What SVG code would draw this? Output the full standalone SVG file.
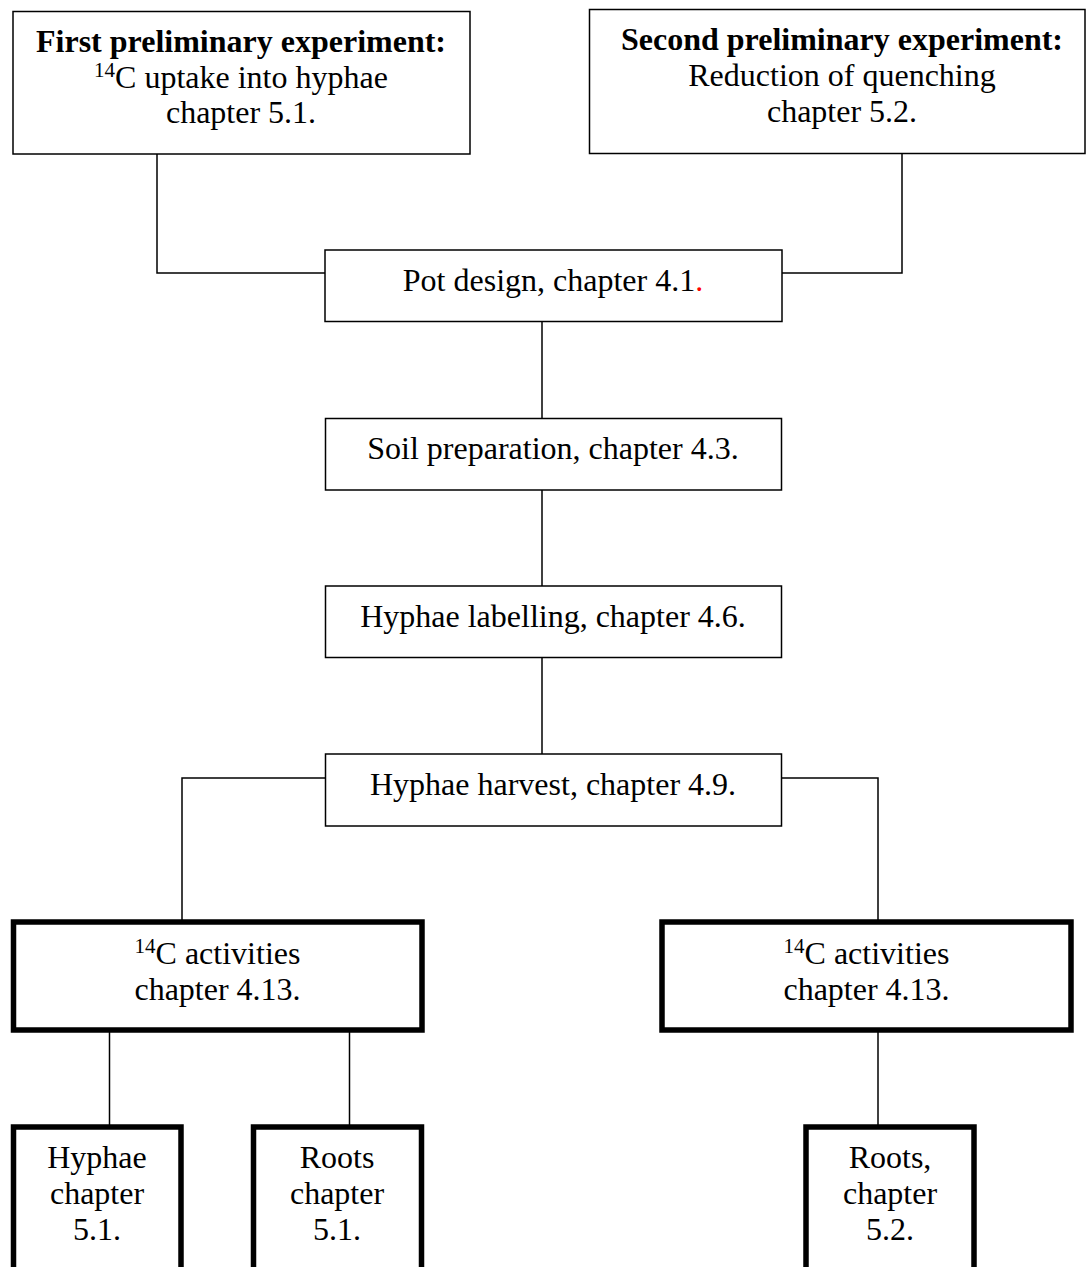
<svg xmlns="http://www.w3.org/2000/svg" width="1086" height="1267" viewBox="0 0 1086 1267">
<style>
  .box{fill:#fff;stroke:#000;stroke-width:1.5}
  .thick{fill:#fff;stroke:#000;stroke-width:5.5}
  .conn{fill:none;stroke:#000;stroke-width:1.5}
  text{font-family:"Liberation Serif","Times New Roman",serif;font-size:32px;fill:#000;text-anchor:middle}
  .b{font-weight:bold}
  .sup{font-size:21px}
  .red{fill:#ff0000}
</style>
<rect x="0" y="0" width="1086" height="1267" fill="#fff"/>
<g id="connectors">
  <polyline class="conn" points="157,154 157,273 325,273"/>
  <polyline class="conn" points="902,154 902,273 782,273"/>
  <line class="conn" x1="542" y1="322" x2="542" y2="418"/>
  <line class="conn" x1="542" y1="490" x2="542" y2="586"/>
  <line class="conn" x1="542" y1="658" x2="542" y2="754"/>
  <polyline class="conn" points="325,778 182,778 182,920"/>
  <polyline class="conn" points="782,778 878,778 878,920"/>
  <line class="conn" x1="109.5" y1="1031" x2="109.5" y2="1125"/>
  <line class="conn" x1="349.5" y1="1031" x2="349.5" y2="1125"/>
  <line class="conn" x1="878" y1="1031" x2="878" y2="1125"/>
</g>
<g id="first-preliminary">
  <rect class="box" x="13" y="11.5" width="457" height="142.5"/>
  <text x="241" y="52" class="b">First preliminary experiment:</text>
  <text x="241" y="88"><tspan class="sup" dy="-11">14</tspan><tspan dy="11">C uptake into hyphae</tspan></text>
  <text x="241" y="123">chapter 5.1.</text>
</g>
<g id="second-preliminary">
  <rect class="box" x="589.5" y="9.5" width="495.5" height="144"/>
  <text x="842" y="50" class="b">Second preliminary experiment:</text>
  <text x="842" y="86">Reduction of quenching</text>
  <text x="842" y="122">chapter 5.2.</text>
</g>
<g id="pot-design">
  <rect class="box" x="325" y="250" width="457" height="71.5"/>
  <text x="553" y="291">Pot design, chapter 4.1<tspan class="red">.</tspan></text>
</g>
<g id="soil-preparation">
  <rect class="box" x="325.5" y="418.5" width="456" height="71.5"/>
  <text x="553" y="459">Soil preparation, chapter 4.3.</text>
</g>
<g id="hyphae-labelling">
  <rect class="box" x="325.5" y="586" width="456" height="71.5"/>
  <text x="553" y="627">Hyphae labelling, chapter 4.6.</text>
</g>
<g id="hyphae-harvest">
  <rect class="box" x="325.5" y="754" width="456" height="72"/>
  <text x="553" y="795">Hyphae harvest, chapter 4.9.</text>
</g>
<g id="activities-left">
  <rect class="thick" x="13.5" y="922" width="408.5" height="108"/>
  <text x="217.5" y="964"><tspan class="sup" dy="-11">14</tspan><tspan dy="11">C activities</tspan></text>
  <text x="217.5" y="1000">chapter 4.13.</text>
</g>
<g id="activities-right">
  <rect class="thick" x="662" y="922" width="409" height="108"/>
  <text x="866.5" y="964"><tspan class="sup" dy="-11">14</tspan><tspan dy="11">C activities</tspan></text>
  <text x="866.5" y="1000">chapter 4.13.</text>
</g>
<g id="hyphae-51">
  <rect class="thick" x="13.5" y="1127" width="167.5" height="170"/>
  <text x="97" y="1168">Hyphae</text>
  <text x="97" y="1204">chapter</text>
  <text x="97" y="1240">5.1.</text>
</g>
<g id="roots-51">
  <rect class="thick" x="253.5" y="1127" width="168" height="170"/>
  <text x="337" y="1168">Roots</text>
  <text x="337" y="1204">chapter</text>
  <text x="337" y="1240">5.1.</text>
</g>
<g id="roots-52">
  <rect class="thick" x="806" y="1127" width="168" height="170"/>
  <text x="890" y="1168">Roots,</text>
  <text x="890" y="1204">chapter</text>
  <text x="890" y="1240">5.2.</text>
</g>
</svg>
